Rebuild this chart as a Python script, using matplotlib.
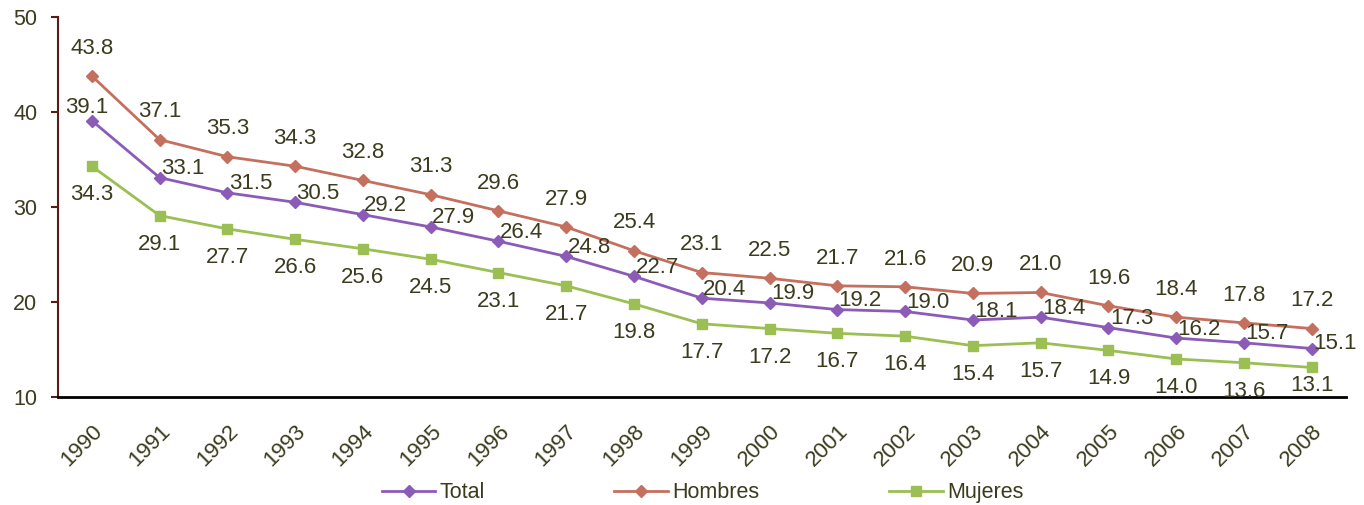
import numpy as np
import matplotlib.pyplot as plt

plt.rcParams['font.family'] = ['Liberation Sans', 'DejaVu Sans']

years = [str(y) for y in range(1990, 2009)]
total = [39.1, 33.1, 31.5, 30.5, 29.2, 27.9, 26.4, 24.8, 22.7, 20.4, 19.9, 19.2, 19.0, 18.1, 18.4, 17.3, 16.2, 15.7, 15.1]
hombres = [43.8, 37.1, 35.3, 34.3, 32.8, 31.3, 29.6, 27.9, 25.4, 23.1, 22.5, 21.7, 21.6, 20.9, 21.0, 19.6, 18.4, 17.8, 17.2]
mujeres = [34.3, 29.1, 27.7, 26.6, 25.6, 24.5, 23.1, 21.7, 19.8, 17.7, 17.2, 16.7, 16.4, 15.4, 15.7, 14.9, 14.0, 13.6, 13.1]

txt = '#3b3b1e'
c_total = '#8c5bb8'
c_hom = '#c5705e'
c_muj = '#9bbf52'

fig = plt.figure(figsize=(13.64, 5.05), dpi=100)
ax = fig.add_axes([0.0425, 0.214, 0.944, 0.752])

x = np.arange(len(years))
ax.plot(x, total, color=c_total, lw=2, marker='D', ms=6, label='Total')
ax.plot(x, hombres, color=c_hom, lw=2, marker='D', ms=6, label='Hombres')
ax.plot(x, mujeres, color=c_muj, lw=2, marker='s', ms=7.5, label='Mujeres')

fs = 16
last = len(x) - 1
for i in x:
    ax.annotate(f'{hombres[i]:.1f}', (i, hombres[i]), xytext=(0, 20), textcoords='offset points',
                ha='center', va='center', fontsize=fs, color=txt)
    dy = -13 if i == last else -20.5
    ax.annotate(f'{mujeres[i]:.1f}', (i, mujeres[i]), xytext=(0, dy), textcoords='offset points',
                ha='center', va='center', fontsize=fs, color=txt)
    if i == 0:
        ax.annotate(f'{total[i]:.1f}', (i, total[i]), xytext=(-3.5, 9.5), textcoords='offset points',
                    ha='center', va='center', fontsize=fs, color=txt)
    else:
        dy = 3.5 if i == last else 6.5
        ax.annotate(f'{total[i]:.1f}', (i, total[i]), xytext=(1, dy), textcoords='offset points',
                    ha='left', va='center', fontsize=fs, color=txt)

ax.set_xlim(-0.5, len(years) - 0.5)
ax.set_ylim(10, 50)
ax.set_yticks([10, 20, 30, 40, 50])
ax.set_xticks(x)
ax.set_xticklabels(years, rotation=45, ha='right', rotation_mode='anchor')
ax.tick_params(axis='x', length=0, labelsize=16, labelcolor=txt, pad=17)
ax.tick_params(axis='y', length=5, width=1.5, color='#5c1a1a', labelsize=15.5, labelcolor=txt, pad=10)
for s in ['top', 'right']:
    ax.spines[s].set_visible(False)
ax.spines['left'].set_color('#5c1a1a')
ax.spines['left'].set_linewidth(1.5)
ax.spines['bottom'].set_color('black')
ax.spines['bottom'].set_linewidth(2)

fig.legend(loc='center', bbox_to_anchor=(0.515, 0.024), ncol=3, frameon=False,
           fontsize=15.5, labelcolor=txt, handlelength=2.5, handletextpad=0.2,
           columnspacing=6.0)

fig.savefig('out.png', dpi=100)
